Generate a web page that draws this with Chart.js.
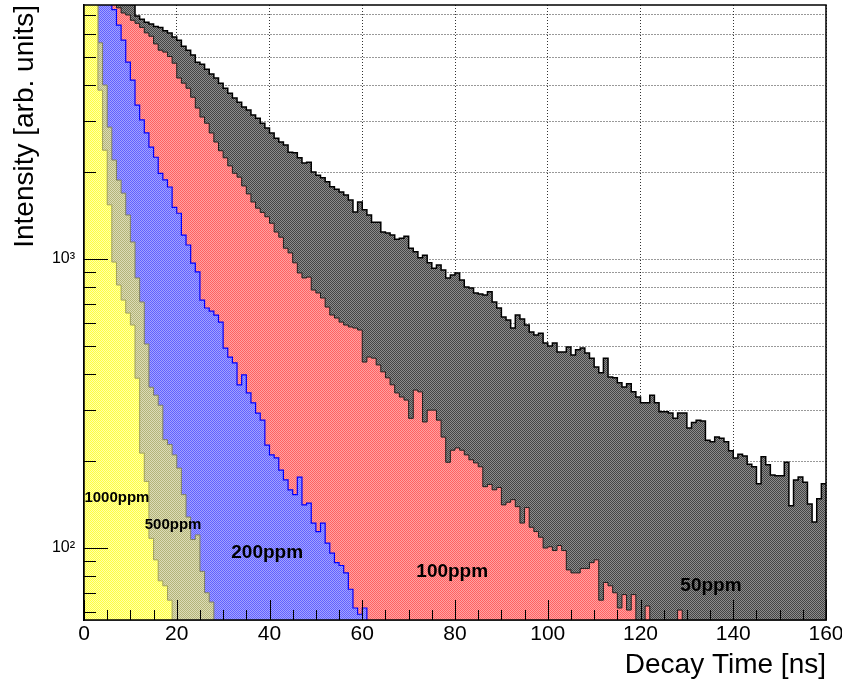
<!DOCTYPE html>
<html lang="en">
<head>
<meta charset="UTF-8">
<title>Decay time spectra</title>
<script src="https://cdn.jsdelivr.net/npm/chart.js"></script>
<style>
  html, body { margin: 0; padding: 0; background: #fff; }
  #wrap { width: 842px; height: 689px; }
</style>
</head>
<body>
<div id="wrap"><canvas id="chart" width="842" height="689"></canvas></div>
<script>
// counts per 1 ns bin, starting at t = 0
const binWidth = 1;

const ppm1000 = [
  26000, 16000, 9800, 3840, 2380, 1540, 976, 813, 721, 650,
  591, 387, 213, 170, 108, 91, 77, 74, 66, 50,
  45, 40
];

const ppm500 = [
  40000, 22000, 12000, 5600, 4000, 2860, 2200, 1875, 1690, 1420,
  1145, 860, 710, 508, 360, 338, 312, 237, 228, 210,
  189, 153, 128, 107, 111, 83, 70, 65, 48, 42,
  38
];

const ppm200 = [
  35000, 25000, 18000, 13500, 10500, 8500, 7300, 6450, 5720, 4800,
  4160, 3410, 3030, 2730, 2440, 2250, 1980, 1880, 1775, 1510,
  1440, 1210, 1118, 968, 902, 721, 677, 660, 640, 605,
  492, 458, 437, 367, 397, 344, 318, 293, 277, 227,
  210, 205, 186, 172, 159, 153, 176, 141, 143, 122,
  114, 122, 104, 96, 89, 87, 82, 72, 62, 59,
  62, 45, 40
];

const ppm100 = [
  30000, 24000, 19000, 15000, 12000, 9800, 8300, 7400, 7100, 6990,
  6700, 6540, 6330, 6060, 5900, 5550, 5280, 5200, 5020, 4760,
  4230, 4060, 3900, 3630, 3330, 3100, 2950, 2730, 2540, 2370,
  2240, 2100, 1980, 1920, 1790, 1680, 1575, 1500, 1450, 1400,
  1330, 1240, 1190, 1090, 1050, 970, 895, 860, 866, 781,
  763, 733, 682, 640, 625, 605, 591, 582, 577, 568,
  440, 458, 454, 430, 407, 388, 367, 344, 333, 325,
  281, 352, 347, 273, 300, 300, 277, 242, 198, 218,
  222, 218, 210, 202, 197, 191, 163, 166, 159, 162,
  141, 144, 147, 139, 122, 138, 118, 114, 109, 100,
  101, 98, 102, 98, 84, 82, 82, 85, 85, 89,
  91, 66, 76, 74, 70, 62, 69, 61, 69, 50,
  52, 63, 48, 46, 50, 45, 47, 43, 61, 44,
  40
];

const ppm50 = [
  21000, 18500, 16500, 14500, 13000, 11800, 10600, 9600, 8800, 8100,
  7600, 6930, 6760, 6600, 6500, 6380, 6320, 6170, 6060, 5860,
  5720, 5450, 5280, 5080, 4800, 4720, 4540, 4370, 4230, 4060,
  3900, 3750, 3610, 3490, 3360, 3280, 3150, 3070, 2950, 2840,
  2730, 2620, 2540, 2480, 2340, 2330, 2240, 2150, 2160, 2000,
  1950, 1910, 1850, 1780, 1745, 1705, 1665, 1600, 1455, 1575,
  1480, 1420, 1340, 1340, 1240, 1230, 1210, 1170, 1180, 1200,
  1090, 1060, 1010, 1030, 970, 930, 953, 916, 860, 880,
  895, 846, 800, 794, 763, 757, 750, 770, 710, 677,
  630, 615, 577, 640, 620, 591, 559, 546, 554, 512,
  500, 512, 477, 477, 496, 465, 485, 492, 473, 454,
  423, 404, 454, 391, 388, 373, 361, 370, 347, 333,
  318, 318, 338, 318, 296, 296, 293, 281, 293, 293,
  260, 272, 277, 275, 236, 233, 242, 240, 233, 217,
  205, 211, 208, 195, 191, 167, 207, 194, 179, 178,
  178, 198, 140, 172, 176, 169, 142, 123, 148, 167
];

const xTicks = [0, 20, 40, 60, 80, 100, 120, 140, 160];
const yTicks = [60, 70, 80, 90, 100, 200, 300, 400, 500, 600, 700, 800, 900,
                1000, 2000, 3000, 4000, 5000, 6000, 7000];
const yTickLabels = { 100: '10\u00B2', 1000: '10\u00B3' };

// concentration tags, placed in data coordinates (ns, counts)
const tags = [
  { text: '1000ppm', t: 7.1,   v: 149, size: 15 },
  { text: '500ppm',  t: 19.2,  v: 120, size: 15 },
  { text: '200ppm',  t: 39.5,  v: 96,  size: 19 },
  { text: '100ppm',  t: 79.4,  v: 83,  size: 19 },
  { text: '50ppm',   t: 135.2, v: 74,  size: 19 }
];

const FONT = "'Liberation Sans', Arial, Helvetica, sans-serif";

// ROOT-style dotted fill: checkerboard of two close tones
function dither(dark, light) {
  const c = document.createElement('canvas');
  c.width = 2; c.height = 2;
  const g = c.getContext('2d');
  g.fillStyle = light; g.fillRect(0, 0, 2, 2);
  g.fillStyle = dark; g.fillRect(0, 0, 1, 1); g.fillRect(1, 1, 1, 1);
  return g.createPattern(c, 'repeat');
}

// bins -> step points; last bin closed at its right edge
function steps(counts) {
  const pts = counts.map((c, i) => ({ x: i * binWidth, y: c }));
  pts.push({ x: counts.length * binWidth, y: counts[counts.length - 1] });
  return pts;
}

function hist(label, counts, line, fill, width) {
  return {
    label: label,
    data: steps(counts),
    stepped: 'before',
    borderColor: line,
    borderWidth: width,
    backgroundColor: fill,
    fill: 'start',
    pointRadius: 0,
    tension: 0
  };
}

const rootFrame = {
  id: 'rootFrame',
  afterDraw(chart) {
    const { ctx, chartArea: a, scales: { x, y } } = chart;
    ctx.save();
    ctx.strokeStyle = '#000';
    ctx.lineWidth = 1;
    ctx.beginPath();
    for (let t = 0; t <= 160; t += 5) {
      const px = Math.round(x.getPixelForValue(t)) + 0.5;
      const len = t % 20 === 0 ? 20 : 10;
      ctx.moveTo(px, a.bottom);
      ctx.lineTo(px, a.bottom - len);
    }
    yTicks.forEach(v => {
      const py = Math.round(y.getPixelForValue(v)) + 0.5;
      const len = yTickLabels[v] ? 24 : 12;
      ctx.moveTo(a.left, py);
      ctx.lineTo(a.left + len, py);
    });
    ctx.stroke();
    ctx.lineWidth = 1.5;
    ctx.strokeRect(a.left, a.top, a.right - a.left, a.bottom - a.top);

    ctx.fillStyle = '#000';
    ctx.textAlign = 'center';
    ctx.textBaseline = 'middle';
    tags.forEach(tg => {
      ctx.font = 'bold ' + tg.size + 'px ' + FONT;
      ctx.fillText(tg.text, x.getPixelForValue(tg.t), y.getPixelForValue(tg.v));
    });
    ctx.restore();
  }
};

new Chart(document.getElementById('chart'), {
  type: 'line',
  data: {
    datasets: [
      hist('1000ppm', ppm1000, '#a0a060', dither('#ffff40', '#ffffa8'), 1),
      hist('500ppm',  ppm500,  '#808060', dither('#b4b478', '#dcdcb8'), 1),
      hist('200ppm',  ppm200,  '#0000ff', dither('#6262ff', '#a2a2ff'), 1.2),
      hist('100ppm',  ppm100,  '#202020', dither('#ff6262', '#ffa2a2'), 1),
      hist('50ppm',   ppm50,   '#000000', dither('#444444', '#8c8c8c'), 1.5)
    ]
  },
  options: {
    responsive: false,
    animation: false,
    devicePixelRatio: 1,
    layout: { padding: { top: 5, right: 16, left: 0, bottom: 0 } },
    plugins: { legend: { display: false }, tooltip: { enabled: false } },
    scales: {
      x: {
        type: 'linear',
        min: 0,
        max: 160,
        z: 1,
        afterBuildTicks: s => { s.ticks = xTicks.map(v => ({ value: v })); },
        afterFit: s => { s.height = 69; s.paddingLeft = 0; s.paddingRight = 0; },
        ticks: {
          autoSkip: false,
          maxRotation: 0,
          padding: 2,
          color: '#000',
          font: { family: FONT, size: 21 }
        },
        grid: { color: 'rgba(0,0,0,0.8)', lineWidth: 1, drawTicks: false },
        border: { display: true, color: '#000', width: 1.5, dash: [1, 2] },
        title: {
          display: true,
          text: 'Decay Time [ns]',
          align: 'end',
          color: '#000',
          font: { family: FONT, size: 28 },
          padding: { top: 0, bottom: 7 }
        }
      },
      y: {
        type: 'logarithmic',
        min: 56.35,
        max: 7568,
        z: 1,
        afterBuildTicks: s => { s.ticks = yTicks.map(v => ({ value: v })); },
        afterFit: s => { s.width = 84; s.paddingTop = 0; s.paddingBottom = 0; },
        ticks: {
          autoSkip: false,
          padding: 9,
          color: '#000',
          font: { family: FONT, size: 16 },
          callback: v => yTickLabels[v] || ''
        },
        grid: { color: 'rgba(0,0,0,0.8)', lineWidth: 1, drawTicks: false },
        border: { display: true, color: '#000', width: 1.5, dash: [1, 2] },
        title: {
          display: true,
          text: 'Intensity [arb. units]',
          align: 'end',
          color: '#000',
          font: { family: FONT, size: 28 },
          padding: { top: 8, bottom: 0 }
        }
      }
    }
  },
  plugins: [rootFrame]
});
</script>
</body>
</html>
